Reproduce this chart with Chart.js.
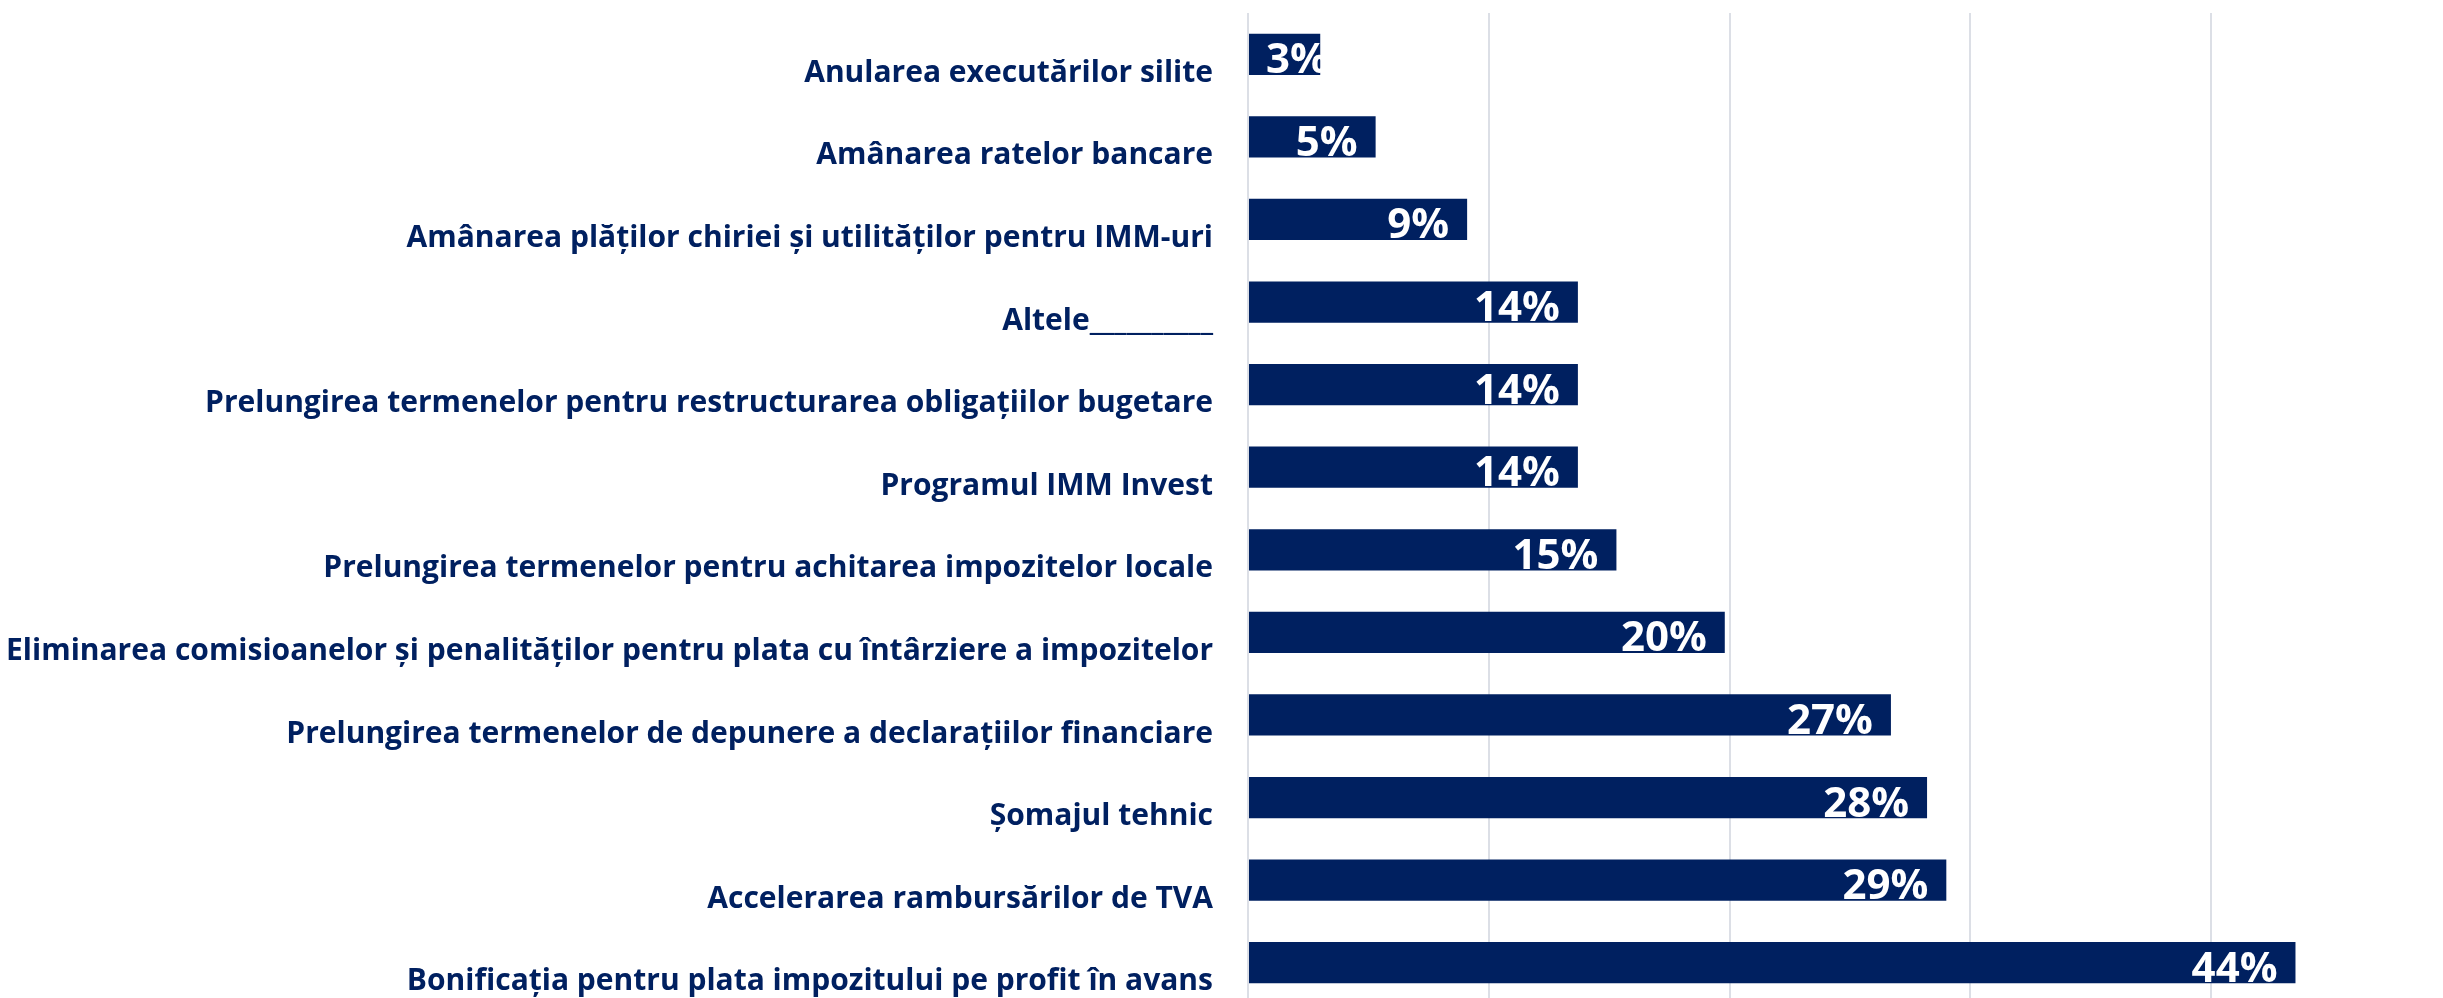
<!DOCTYPE html>
<html>
<head>
<meta charset="utf-8">
<script src="https://cdn.jsdelivr.net/npm/chart.js@4/dist/chart.umd.min.js"></script>
<style>
  html, body { margin: 0; padding: 0; background: #fff; overflow: hidden; }
  #wrap { position: relative; width: 2452px; height: 1004px; }
</style>
</head>
<body>
<div id="wrap"><canvas id="chart"></canvas></div>
<script>
// categories, top to bottom
const categories = [
  'Anularea executărilor silite',
  'Amânarea ratelor bancare',
  'Amânarea plăților chiriei și utilităților pentru IMM-uri',
  'Altele__________',
  'Prelungirea termenelor pentru restructurarea obligațiilor bugetare',
  'Programul IMM Invest',
  'Prelungirea termenelor pentru achitarea impozitelor locale',
  'Eliminarea comisioanelor și penalităților pentru plata cu întârziere a impozitelor',
  'Prelungirea termenelor de depunere a declarațiilor financiare',
  'Șomajul tehnic',
  'Accelerarea rambursărilor de TVA',
  'Bonificația pentru plata impozitului pe profit în avans'
];

// share of respondents (%)
const shares = [3.0, 5.3, 9.1, 13.7, 13.7, 13.7, 15.3, 19.8, 26.7, 28.2, 29.0, 43.5];

// x axis gridlines
const xTicks = [0, 10, 20, 30, 40, 50];

const navy = '#002060';

// white value labels at the inner end of each bar
const barLabels = {
  id: 'barLabels',
  afterDatasetsDraw(chart) {
    const ctx = chart.ctx;
    const meta = chart.getDatasetMeta(0);
    ctx.save();
    ctx.font = 'bold 42px "Open Sans"';
    ctx.fillStyle = '#ffffff';
    ctx.textAlign = 'right';
    ctx.textBaseline = 'alphabetic';
    meta.data.forEach((bar, i) => {
      const txt = Math.round(shares[i]) + '%';
      const w = ctx.measureText(txt).width;
      const right = Math.max(bar.x - 18, bar.base + 17 + w);
      ctx.fillText(txt, right, bar.y + 19);
    });
    ctx.restore();
  }
};

// no extra room around the axes, the plot fills the canvas
const noPad = (scale) => {
  scale.paddingTop = 0;
  scale.paddingBottom = 0;
  scale.paddingLeft = 0;
  scale.paddingRight = 0;
};

new Chart(document.getElementById('chart'), {
  type: 'bar',
  data: {
    labels: categories,
    datasets: [{
      data: shares,
      backgroundColor: navy,
      borderWidth: 0,
      barPercentage: 0.5,
      categoryPercentage: 1.0
    }]
  },
  options: {
    indexAxis: 'y',
    responsive: true,
    maintainAspectRatio: false,
    animation: false,
    layout: { padding: { top: 13, left: 0, right: 0, bottom: 0 } },
    plugins: {
      legend: { display: false },
      tooltip: { enabled: false }
    },
    scales: {
      x: {
        min: 0,
        max: 50,
        afterBuildTicks: (scale) => { scale.ticks = xTicks.map(v => ({ value: v })); },
        afterFit: (scale) => { noPad(scale); scale.height = 0; },
        ticks: { display: false },
        grid: { color: '#dcdfe6', lineWidth: 2, drawTicks: false },
        border: { display: false }
      },
      y: {
        grid: { display: false, drawTicks: false },
        border: { display: false },
        afterFit: (scale) => { noPad(scale); scale.width = 1248; },
        ticks: {
          color: navy,
          padding: 35,
          labelOffset: 19,
          autoSkip: false,
          font: { family: '"Open Sans"', weight: 'bold', size: 30 }
        }
      }
    }
  },
  plugins: [barLabels]
});
</script>
</body>
</html>
